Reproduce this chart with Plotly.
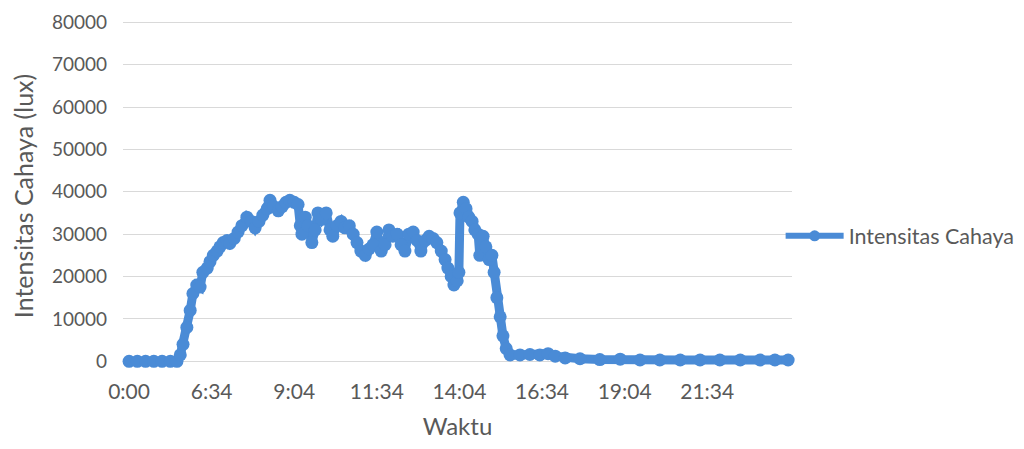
import plotly.graph_objects as go

# sample number along the category axis (one sample per minute after the night gap)
sample = [0, 15, 30, 45, 60, 75, 87,
          93, 98, 105, 111, 116, 123, 129, 134, 142, 147, 153, 160, 165, 171,
          178, 183, 191, 198, 205, 214, 222, 229, 236, 243, 251, 256, 263, 271,
          278, 285, 292, 300, 307, 311, 314, 320, 325, 332, 338, 343, 350, 358,
          365, 370, 378, 385, 392, 400, 407, 414, 421, 429, 436, 443, 450, 458,
          465, 472, 479, 487, 494, 501, 508, 516, 523, 530, 538, 545, 552, 559,
          567, 574, 579, 585, 590, 596, 599, 601, 607, 612, 617, 623, 628, 634,
          637, 643, 648, 654, 659, 663, 668, 674, 679, 685, 692, 710, 728, 746,
          761, 774, 792, 819, 855, 892, 928, 964, 1001, 1037, 1073, 1110, 1146,
          1173, 1197]

lux = [0, 0, 0, 0, 0, 0, 0,
       1500, 4000, 8000, 12000, 16000, 18000, 17500, 21000, 22000, 23500, 25000, 26000, 27000, 28000,
       28500, 27800, 29000, 30500, 32000, 34000, 33000, 31500, 33000, 34500, 36000, 38000, 36500, 35500,
       36500, 37500, 38000, 37500, 37000, 32000, 30000, 34000, 32000, 28000, 31000, 35000, 33500, 35000,
       31000, 29500, 32000, 33000, 31500, 32000, 30000, 28000, 26000, 25000, 26500, 27500, 30500, 26000,
       27500, 31000, 29500, 30000, 27500, 26000, 30000, 30500, 28500, 26000, 28500, 29500, 29000, 28000,
       26000, 24000, 22000, 20000, 18000, 19000, 21000, 35000, 37500, 36000, 34000, 33000, 31000, 30000,
       25000, 29500, 27000, 24000, 25000, 21000, 15000, 10500, 6000, 3000, 1500, 1500, 1600, 1500,
       1800, 1200, 800, 600, 400, 500, 300, 300, 300, 300, 300, 300, 300,
       300, 300]

tick_pos = [0, 150, 300, 450, 600, 750, 900, 1050]
tick_text = ["0:00", "6:34", "9:04", "11:34", "14:04", "16:34", "19:04", "21:34"]

blue = "#4a8bd6"
grey_text = "#595959"
font_family = "Lato, 'Open Sans', sans-serif"

fig = go.Figure()
fig.add_trace(go.Scatter(
    x=sample, y=lux, mode="lines+markers", name="Intensitas Cahaya",
    line=dict(color=blue, width=9),
    marker=dict(color=blue, size=13, symbol="circle"),
    cliponaxis=False, showlegend=False,
))
# legend entry with the normal (thinner) series style
fig.add_trace(go.Scatter(
    x=[None], y=[None], mode="lines+markers", name="Intensitas Cahaya",
    line=dict(color=blue, width=6),
    marker=dict(color=blue, size=11, symbol="circle"),
    showlegend=True,
))

fig.update_layout(
    width=1016, height=441,
    margin=dict(l=115, r=232, t=10, b=75, autoexpand=False),
    paper_bgcolor="white", plot_bgcolor="white",
    font=dict(family=font_family, color=grey_text, size=18),
    showlegend=True,
    legend=dict(x=0.983, y=0.388, xanchor="left", yanchor="middle",
                font=dict(size=21.5, color=grey_text), bgcolor="rgba(0,0,0,0)",
                itemwidth=58),
    xaxis=dict(range=[-11, 1204], tickmode="array", tickvals=tick_pos, ticktext=tick_text,
               showgrid=False, zeroline=False, showline=False, ticks="",
               tickfont=dict(size=21), ticklabelstandoff=3, automargin=False,
               title=dict(text="Waktu", font=dict(size=24, color=grey_text), standoff=16)),
    yaxis=dict(range=[-3000, 81000], tick0=0, dtick=10000, tickmode="linear",
               tickformat="d", automargin=False, tickfont=dict(size=19),
               showgrid=True, gridcolor="#d9d9d9", gridwidth=1, zeroline=False,
               showline=False, ticks="", ticklabelstandoff=15,
               title=dict(text="Intensitas Cahaya (lux)", font=dict(size=25, color=grey_text),
                          standoff=12)),
)

fig.write_html("out.html")
